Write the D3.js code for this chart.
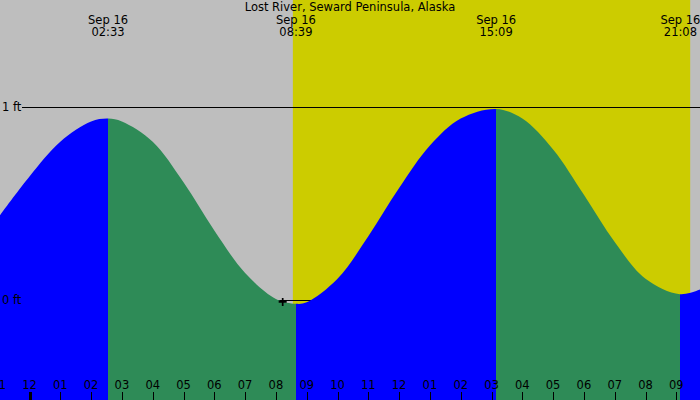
<!DOCTYPE html>
<html>
<head>
<meta charset="utf-8">
<script src="https://cdn.jsdelivr.net/npm/d3@7"></script>
<style>
  html, body { margin: 0; padding: 0; background: #bebebe; }
  svg { display: block; font-family: "DejaVu Sans", sans-serif; }
</style>
</head>
<body>
<svg id="chart" width="700" height="400"></svg>
<script>
const title = 'Lost River, Seward Peninsula, Alaska';

// bottom axis: hours since midnight Sep 16
const hourTicks = [-1, 0, 1, 2, 3, 4, 5, 6, 7, 8, 9, 10, 11, 12, 13, 14, 15, 16, 17, 18, 19, 20, 21];
const hourLabels = ['11', '12', '01', '02', '03', '04', '05', '06', '07', '08', '09', '10',
  '11', '12', '01', '02', '03', '04', '05', '06', '07', '08', '09'];

// tide height (ft)
const sampleHours = [-1, 0, 1, 2, 3, 4, 5, 6, 7, 8, 9, 10, 11, 12, 13, 14, 16, 17, 18, 19, 20, 22];
const sampleHeights = [0.43, 0.64, 0.82, 0.925, 0.925, 0.82, 0.61, 0.36, 0.14, 0.005, -0.012, 0.11,
  0.33, 0.58, 0.80, 0.94, 0.94, 0.78, 0.545, 0.30, 0.11, 0.07];

// high / low tides
const extremeHours = [2.55, 8.65, 15.15, 21.133];
const extremeDates = ['Sep 16', 'Sep 16', 'Sep 16', 'Sep 16'];
const extremeTimes = ['02:33', '08:39', '15:09', '21:08'];
const extremeHeights = [0.94, -0.02, 0.99, 0.03];

const sunHours = [8.55, 21.45]; // sunrise, sunset
const markerHour = 8.22;
const markerHeight = -0.01;

const levelValues = [0, 1];
const levelLabels = ['0 ft', '1 ft'];

const width = 700;
const height = 400;
const fontSize = 11.5;

const svg = d3.select('#chart');

const x = d3.scaleLinear()
  .domain([-0.958, 21.769])
  .range([0, width]);

const y = d3.scaleLinear()
  .domain([0, 1])
  .range([300, 107]);

// background + daylight
svg.append('rect')
  .attr('width', width).attr('height', height)
  .attr('fill', '#bebebe');

svg.append('rect')
  .attr('x', x(sunHours[0]))
  .attr('y', 0)
  .attr('width', x(sunHours[1]) - x(sunHours[0]))
  .attr('height', height)
  .attr('fill', '#cccc00');

// level lines sit behind the water
svg.append('g')
  .selectAll('line')
  .data(levelValues)
  .enter()
  .append('line')
  .attr('x1', 22).attr('x2', width)
  .attr('y1', d => Math.round(y(d)) + 0.5)
  .attr('y2', d => Math.round(y(d)) + 0.5)
  .attr('stroke', '#000')
  .attr('stroke-width', 1);

// merge readings with the extremes
const points = sampleHours.map((h, i) => ({ h, v: sampleHeights[i] }))
  .concat(extremeHours.map((h, i) => ({ h, v: extremeHeights[i] })))
  .sort((a, b) => a.h - b.h);

const area = d3.area()
  .x(d => x(d.h))
  .y0(height)
  .y1(d => y(d.v))
  .curve(d3.curveCatmullRom.alpha(0.5));

const isHigh = i => {
  const other = i + 1 < extremeHeights.length ? extremeHeights[i + 1] : extremeHeights[i - 1];
  return extremeHeights[i] > other;
};

const bounds = [x.domain()[0], ...extremeHours, x.domain()[1]];
const defs = svg.append('defs');

for (let i = 0; i < bounds.length - 1; i++) {
  const n = extremeHours.length;
  const rising = i < n ? isHigh(i) : !isHigh(n - 1);
  const x0 = Math.round(x(bounds[i]));
  const x1 = Math.round(x(bounds[i + 1]));

  defs.append('clipPath')
    .attr('id', 'seg' + i)
    .append('rect')
    .attr('x', x0).attr('y', 0)
    .attr('width', x1 - x0).attr('height', height);

  svg.append('path')
    .datum(points)
    .attr('d', area)
    .attr('clip-path', `url(#seg${i})`)
    .attr('fill', rising ? '#0000ff' : '#2e8b57');
}

// level labels
svg.append('g')
  .selectAll('text')
  .data(levelValues)
  .enter()
  .append('text')
  .attr('x', 2)
  .attr('y', d => y(d) + 4)
  .attr('font-size', fontSize)
  .attr('fill', '#000')
  .text((d, i) => levelLabels[i]);

// hour ticks along the bottom
const ticks = svg.append('g');

ticks.selectAll('line')
  .data(hourTicks)
  .enter()
  .append('line')
  .attr('x1', d => Math.round(x(d)) + 0.5)
  .attr('x2', d => Math.round(x(d)) + 0.5)
  .attr('y1', 392).attr('y2', height)
  .attr('stroke', '#000')
  .attr('stroke-width', d => d === 0 ? 3 : 1);

ticks.selectAll('text')
  .data(hourTicks)
  .enter()
  .append('text')
  .attr('x', d => x(d))
  .attr('y', 389)
  .attr('text-anchor', 'middle')
  .attr('font-size', fontSize)
  .attr('fill', '#000')
  .text((d, i) => hourLabels[i]);

// marker
svg.append('path')
  .attr('d', `M${x(markerHour) - 4},${y(markerHeight)}h8M${x(markerHour)},${y(markerHeight) - 4}v8`)
  .attr('stroke', '#000')
  .attr('stroke-width', 1.7);

// title and tide times
svg.append('text')
  .attr('x', width / 2)
  .attr('y', 11)
  .attr('text-anchor', 'middle')
  .attr('font-size', fontSize)
  .text(title);

const heads = svg.append('g')
  .selectAll('g')
  .data(extremeHours)
  .enter()
  .append('g')
  .attr('transform', d => `translate(${x(d)},0)`);

heads.append('text')
  .attr('y', 24)
  .attr('text-anchor', 'middle')
  .attr('font-size', fontSize)
  .text((d, i) => extremeDates[i]);

heads.append('text')
  .attr('y', 36)
  .attr('text-anchor', 'middle')
  .attr('font-size', fontSize)
  .text((d, i) => extremeTimes[i]);
</script>
</body>
</html>
